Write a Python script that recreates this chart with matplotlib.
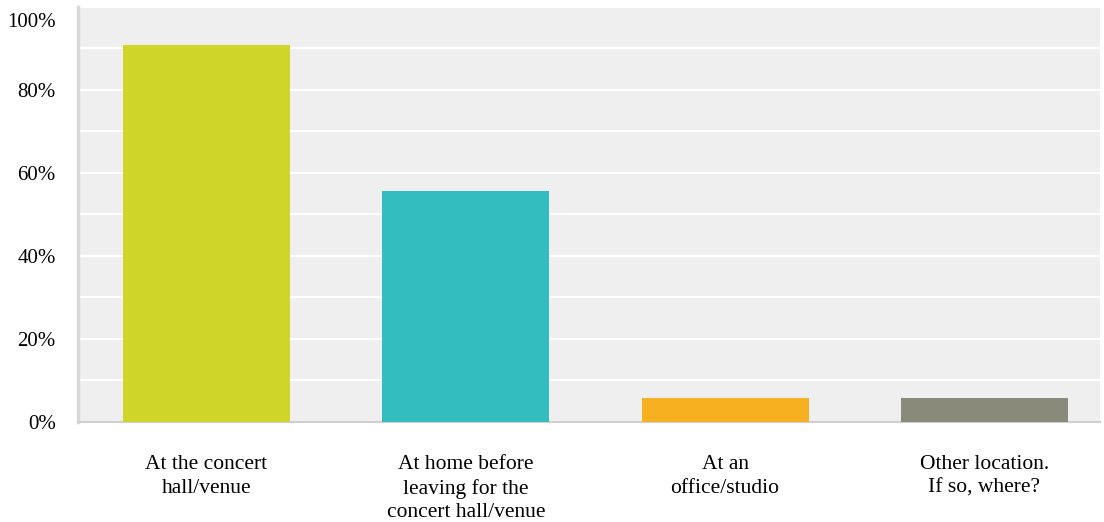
import matplotlib
matplotlib.use("Agg")
import matplotlib.pyplot as plt
from matplotlib.transforms import ScaledTranslation
import numpy as np

categories = ["At the concert\nhall/venue",
              "At home before\nleaving for the\nconcert hall/venue",
              "At an\noffice/studio",
              "Other location.\nIf so, where?"]
values = [90.9, 55.6, 5.6, 5.6]
colors = ["#D0D52A", "#33BDBF", "#F6B020", "#8A8A7A"]
ytick_vals = [0, 20, 40, 60, 80, 100]
ytick_labels = ["0%", "20%", "40%", "60%", "80%", "100%"]

plt.rcParams['font.family'] = ['Liberation Serif', 'DejaVu Serif']

fig = plt.figure(figsize=(11.04, 5.22), dpi=100)
ax = fig.add_axes([78/1104, 1 - 421.7/522, (1100 - 78)/1104, (421.7 - 7)/522])
ax.set_facecolor("#EFEFEF")

x = np.arange(len(categories))
ax.bar(x, values, width=0.644, color=colors, zorder=3)

ax.set_ylim(0, 100)
ax.set_xlim(-0.4956, 3.446)
ax.set_yticks(ytick_vals)
ax.set_yticklabels(ytick_labels, fontsize=15)
ax.set_yticks(np.arange(0, 101, 10), minor=True)
ax.grid(axis='y', which='both', color='white', linewidth=1.6, zorder=1)
ax.tick_params(axis='y', which='both', length=0, pad=16)
ax.set_xticks(x)
ax.set_xticklabels(categories, fontsize=15.5, linespacing=1.32)
ax.tick_params(axis='x', length=0, pad=24)

for lab in ax.get_xticklabels():
    lab.set_multialignment('center')

for s in ['top', 'right']:
    ax.spines[s].set_visible(False)
ax.spines['left'].set_color('#D8D8D8')
ax.spines['left'].set_linewidth(2.5)
ax.spines['bottom'].set_color('#CFCFCF')
ax.spines['bottom'].set_linewidth(1.5)

# top label pushed down inside the figure as in reference
fig.canvas.draw()
top_lab = ax.get_yticklabels()[-1]
top_lab.set_transform(top_lab.get_transform() + ScaledTranslation(0, -13/100, fig.dpi_scale_trans))

fig.savefig("out.png", dpi=100)
